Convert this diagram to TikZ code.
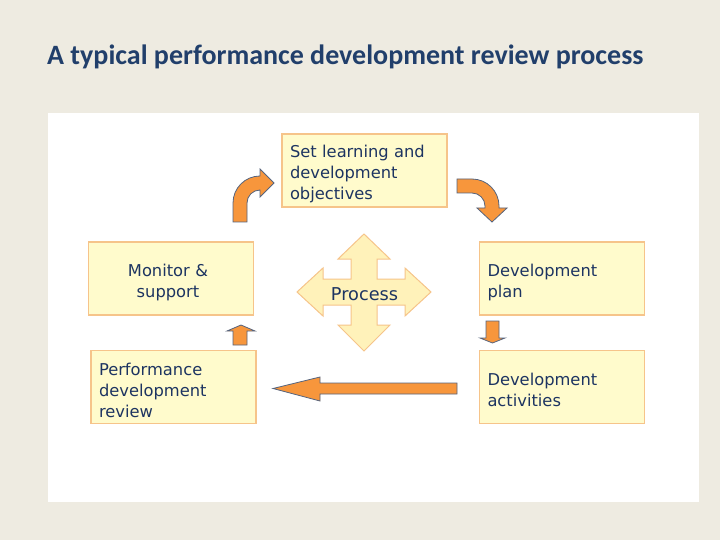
\documentclass[tikz,border=0pt]{standalone}
\usepackage{fontspec}
\newfontfamily\titlefont{Carlito}
\newfontfamily\boxfont{DejaVu Sans}
\definecolor{bg}{HTML}{EEEBE1}
\definecolor{titleblue}{HTML}{213F6B}
\definecolor{boxfill}{HTML}{FFFBCC}
\definecolor{boxline}{HTML}{F6C48A}
\definecolor{textblue}{HTML}{1D3461}
\definecolor{arrowfill}{HTML}{F7963C}
\definecolor{arrowline}{HTML}{56647E}
\definecolor{crossfill}{HTML}{FFF2BA}
\begin{document}
\begin{tikzpicture}[x=1pt,y=-1pt,
  stepbox/.style={draw=boxline, fill=boxfill, line width=1.2pt, minimum width=165pt, minimum height=73pt, inner sep=0pt},
  boxtext/.style={inner xsep=0pt, inner ysep=0pt, text width=149pt, align=left, text=textblue,
    font=\boxfont\fontsize{16.3}{21}\selectfont},
  orangearrow/.style={fill=arrowfill, draw=arrowline, line width=0.8pt, line join=miter},
  crossshape/.style={fill=crossfill, draw=boxline, line width=1pt}]
\fill[bg] (0,0) rectangle (720,540);
\fill[white] (48,113) rectangle (699,502);
\node[anchor=base west, inner sep=0pt, text=titleblue, font=\titlefont\bfseries\fontsize{28}{32}\selectfont] (title) at (47,65) {A typical performance development review process};

% boxes
\node[stepbox] (setobj) at (364.5,170.5) {};
\node[boxtext] (setobjtxt) at ([yshift=-4pt]setobj.center) {Set learning and\\development\\objectives};
\node[stepbox] (monitor) at (171,278.5) {};
\node[boxtext, align=center] (monitortxt) at ([xshift=-3pt,yshift=-4pt]monitor.center) {Monitor \&\\support};
\node[stepbox] (devplan) at (562,278.5) {};
\node[boxtext] (devplantxt) at ([yshift=-4pt]devplan.center) {Development\\plan};
\node[stepbox] (pdr) at (173.5,387) {};
\node[boxtext] (pdrtxt) at ([yshift=-3pt]pdr.center) {Performance\\development\\review};
\node[stepbox] (devact) at (562,387) {};
\node[boxtext] (devacttxt) at ([yshift=-3pt]devact.center) {Development\\activities};

% central cross
\draw[crossshape] (364,234) -- (390,259) -- (377,259) -- (377,279) -- (405,279) -- (405,268) -- (431,292)
  -- (405,316) -- (405,305) -- (377,305) -- (377,325) -- (390,325) -- (364,351) -- (338,325) -- (351,325)
  -- (351,305) -- (323,305) -- (323,316) -- (297,292) -- (323,268) -- (323,279) -- (351,279) -- (351,259)
  -- (338,259) -- cycle;
\node[text=textblue, font=\boxfont\fontsize{17.7}{21}\selectfont, inner sep=0pt] (process) at (364.5,294) {Process};

% curved arrow left (up then right)
\draw[orangearrow] (233,222) -- (233,203) .. controls (233,188.1) and (245.1,176) .. (260,176) -- (260,169) -- (274,183)
  -- (260,197) -- (260,190) .. controls (252.8,190) and (247,195.8) .. (247,203) -- (247,222) -- cycle;
% curved arrow right (right then down)
\draw[orangearrow] (457,179) -- (472,179) .. controls (486.9,179) and (499,191.1) .. (499,206) -- (499,208) -- (507,208)
  -- (492,222) -- (477,208) -- (485,208) -- (485,206) .. controls (485,198.8) and (479.2,193) .. (472,193) -- (457,193) -- cycle;
% small down arrow
\draw[orangearrow] (486,321) -- (499,321) -- (499,338) -- (505,338) -- (492.5,343) -- (480,338) -- (486,338) -- cycle;
% long left arrow
\draw[orangearrow] (457,383) -- (320,383) -- (320,377) -- (273,388.5) -- (320,401) -- (320,394) -- (457,394) -- cycle;
% small up arrow
\draw[orangearrow] (233,345) -- (233,331) -- (227,331) -- (241,325) -- (255,331) -- (247,331) -- (247,345) -- cycle;
\end{tikzpicture}
\end{document}
